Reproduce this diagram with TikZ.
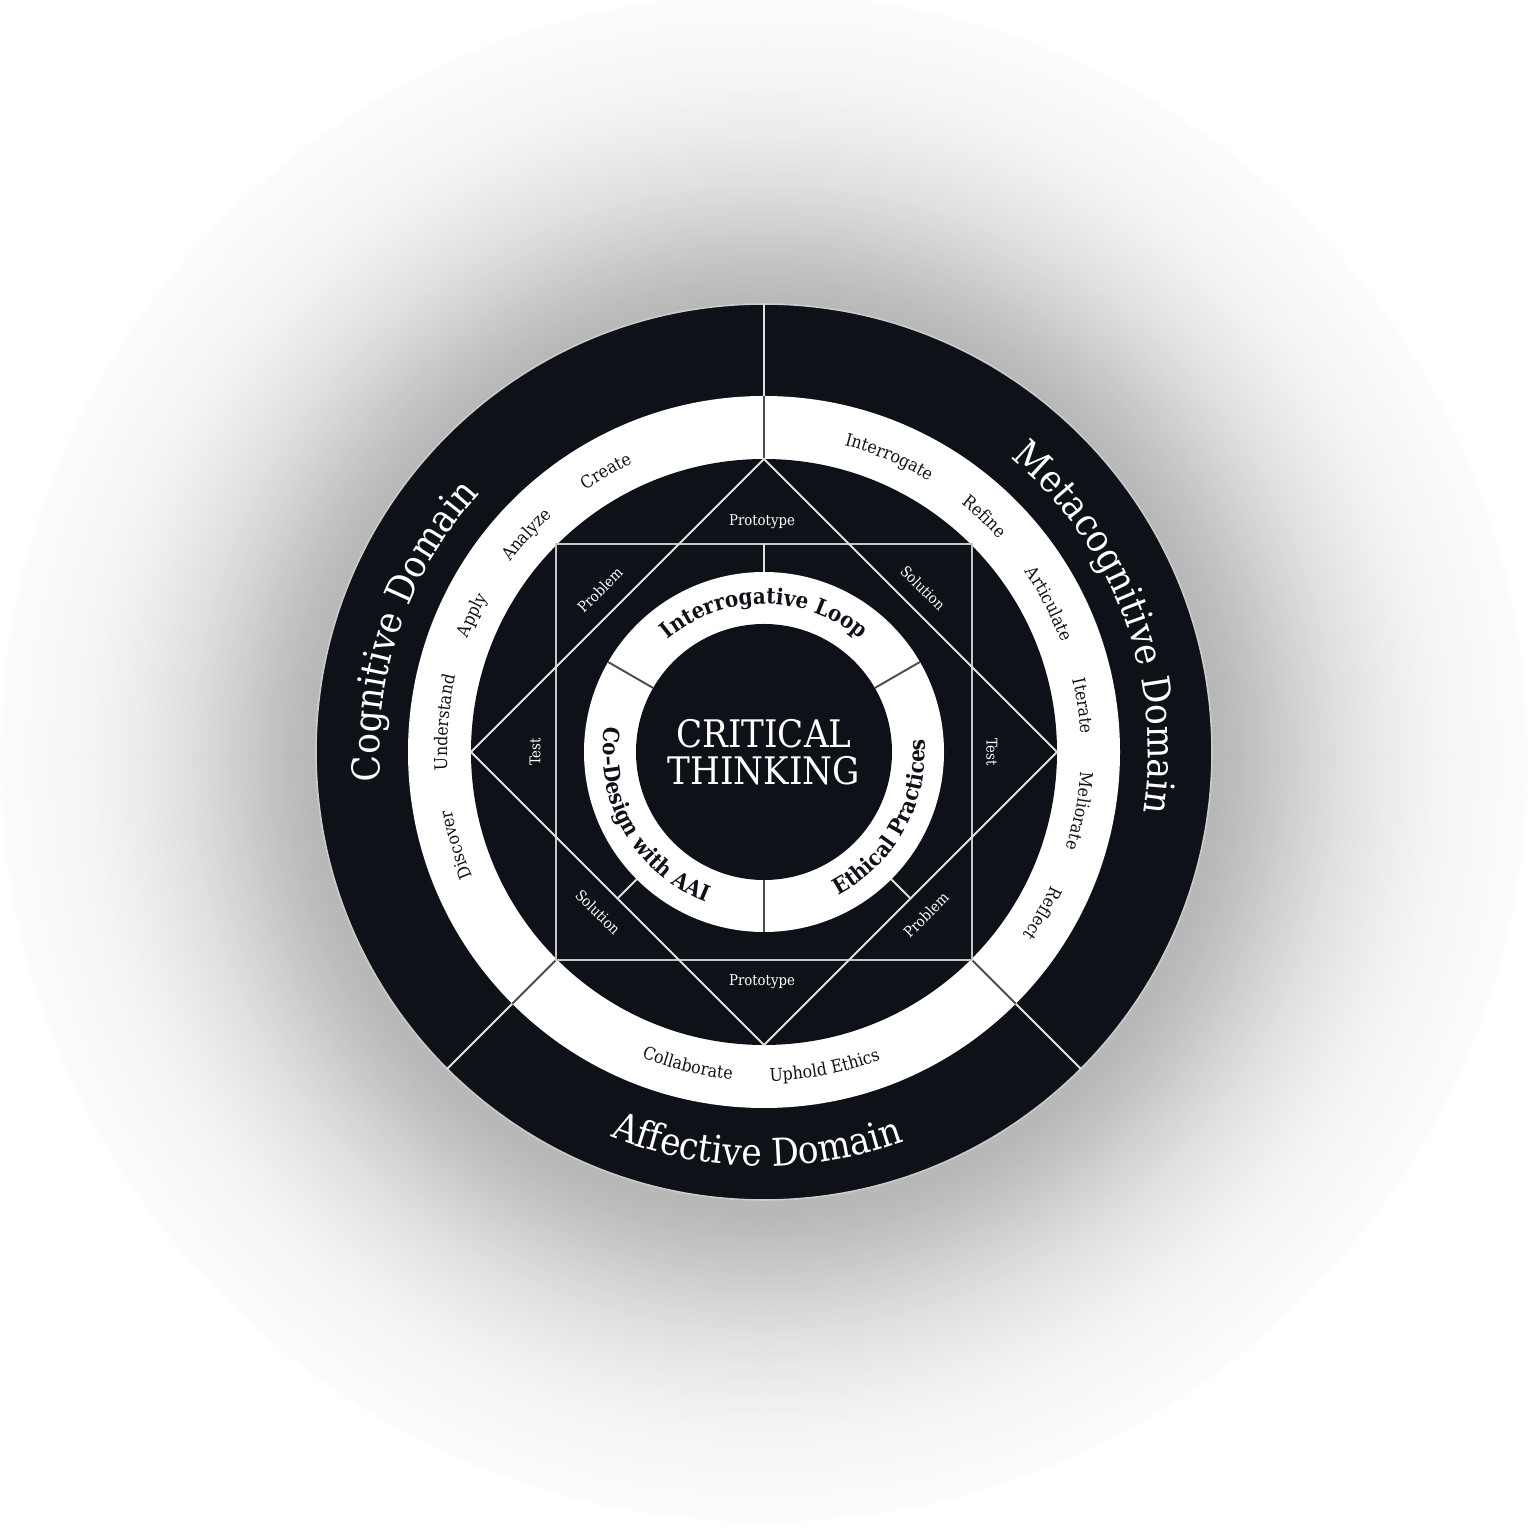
\documentclass[tikz,border=0pt]{standalone}
\usepackage{fontspec}
\setmainfont{DejaVu Serif Condensed}
\usetikzlibrary{decorations.text}
\definecolor{ink}{HTML}{0F1118}
\newcommand{\domainfont}{\fontsize{10.9}{10.9}\selectfont}
\newcommand{\stepfont}{\fontsize{5}{5}\selectfont}
\newcommand{\loopfont}{\fontsize{6.3}{6.3}\selectfont\bfseries}
\newcommand{\cornerfont}{\fontsize{4.2}{4.2}\selectfont}
\newcommand{\corefont}{\fontsize{10.8}{10.5}\selectfont}
% #1 colour, #2 font, #3 start angle, #4 radius, #5 end angle, #6 text
\newcommand{\ringtext}[6]{\path[decorate,decoration={text along path,text align=center,text color=#1,text={|#2|#6}}] (#3:#4) arc[start angle=#3,end angle=#5,radius=#4];}

\begin{document}
\begin{tikzpicture}[
		rim/.style={draw=white!80!black,line width=0.45pt},
		lightline/.style={draw=white!88!black,line width=0.55pt},
		greyline/.style={draw=white!78!black,line width=0.6pt},
		darkline/.style={draw=black!70,line width=0.55pt},
		corner/.style={text=white,font=\cornerfont,inner sep=0pt}]
		\useasboundingbox (-7.64,-7.76) rectangle (7.64,7.52);
		\fill[white] (-7.64,-7.76) rectangle (7.64,7.52);
		% soft shadow
		\foreach \k in {0,...,79}{
			\pgfmathsetmacro\rad{7.64-\k*0.04}
			\pgfmathsetmacro\pct{28*exp(-pow(max(\rad-4.48,0)/1.5,1.5))}
			\fill[black!\pct] (0,-0.06) circle (\rad);
		}
		
		% rings
		\path[fill=ink,rim] (0,0) circle (4.48);
		\fill[white] (0,0) circle (3.56);
		\fill[ink] (0,0) circle (2.93);
		\fill[white] (0,0) circle (1.80);
		\fill[ink] (0,0) circle (1.28);
		
		\coordinate (oN)  at (90:4.48);
		\coordinate (oSW) at (225:4.48);
		\coordinate (oSE) at (315:4.48);
		\coordinate (wN)  at (90:3.56);
		\coordinate (wSW) at (225:3.56);
		\coordinate (wSE) at (315:3.56);
		\coordinate (dN) at (90:2.93);
		\coordinate (dW) at (180:2.93);
		\coordinate (dS) at (270:2.93);
		\coordinate (dE) at (0:2.93);
		\coordinate (sNW) at (-2.08,2.08);
		\coordinate (sSE) at (2.08,-2.08);
		\coordinate (sSW) at (225:2.93);
		\coordinate (sSE2) at (315:2.93);
		\coordinate (sN) at (0,2.08);
		\coordinate (kSW) at (225:2.07);
		\coordinate (kSE) at (315:2.07);
		\coordinate (lN)  at (90:1.80);
		\coordinate (lSW) at (225:1.80);
		\coordinate (lSE) at (315:1.80);
		\coordinate (ringA) at (30:1.80);
		\coordinate (ringB) at (150:1.80);
		\coordinate (ringC) at (270:1.80);
		\coordinate (coreA) at (30:1.28);
		\coordinate (coreB) at (150:1.28);
		\coordinate (coreC) at (270:1.28);
		
		\path[lightline]
		(oN) edge (wN)
		(oSW) edge (wSW)
		(oSE) edge (wSE);
		\path[darkline]
		(wN) edge (dN)
		(wSW) edge (sSW)
		(wSE) edge (sSE2);
		\draw[greyline] (sNW) rectangle (sSE);
		\draw[lightline] (dN) -- (dE) -- (dS) -- (dW) -- cycle;
		\path[lightline]
		(sN) edge (lN)
		(lSW) edge (kSW)
		(lSE) edge (kSE);
		\path[darkline]
		(coreA) edge (ringA)
		(coreB) edge (ringB)
		(coreC) edge (ringC);
		
		% domains
		\ringtext{white}{\domainfont}{231}{3.84}{91}{Cognitive Domain}
		\ringtext{white}{\domainfont}{90.5}{3.84}{-49.5}{Metacognitive Domain}
		\ringtext{white}{\domainfont}{199}{4.14}{339}{Affective Domain}
		
		% white ring
		\ringtext{ink}{\stepfont}{149.4}{3.17}{89.4}{Create}
		\ringtext{ink}{\stepfont}{167.5}{3.17}{107.5}{Analyze}
		\ringtext{ink}{\stepfont}{184.9}{3.17}{124.9}{Apply}
		\ringtext{ink}{\stepfont}{204.7}{3.17}{144.7}{Understand}
		\ringtext{ink}{\stepfont}{226.8}{3.17}{166.8}{Discover}
		\ringtext{ink}{\stepfont}{97}{3.17}{37}{Interrogate}
		\ringtext{ink}{\stepfont}{76.9}{3.17}{16.9}{Refine}
		\ringtext{ink}{\stepfont}{57.4}{3.17}{-2.6}{Articulate}
		\ringtext{ink}{\stepfont}{38.2}{3.17}{-21.8}{Iterate}
		\ringtext{ink}{\stepfont}{19.4}{3.17}{-40.6}{Meliorate}
		\ringtext{ink}{\stepfont}{-0.1}{3.17}{-60.1}{Reflect}
		\ringtext{ink}{\stepfont}{226.3}{3.29}{286.3}{Collaborate}
		\ringtext{ink}{\stepfont}{250.9}{3.29}{310.9}{Uphold Ethics}
		
		% inner ring
		\ringtext{ink}{\loopfont}{150}{1.48}{30}{Interrogative Loop}
		\ringtext{ink}{\loopfont}{150}{1.61}{270}{Co–Design with AAI}
		\ringtext{ink}{\loopfont}{271}{1.61}{391}{Ethical Practices}
		
		\node[corner] (protoN) at (-0.02,2.30) {Prototype};
		\node[corner] (protoS) at (-0.02,-2.30) {Prototype};
		\node[corner,rotate=45] (probNW) at (-1.64,1.62) {Problem};
		\node[corner,rotate=-45] (solNE) at (1.59,1.64) {Solution};
		\node[corner,rotate=-45] (solSW) at (-1.66,-1.60) {Solution};
		\node[corner,rotate=45] (probSE) at (1.62,-1.63) {Problem};
		\node[corner,rotate=90] (testW) at (-2.29,0) {Test};
		\node[corner,rotate=-90] (testE) at (2.28,0) {Test};
		
		\node[text=white,align=center,font=\corefont] (core) at (0,0) {CRITICAL\\THINKING};
		\end{tikzpicture}
\end{document}
